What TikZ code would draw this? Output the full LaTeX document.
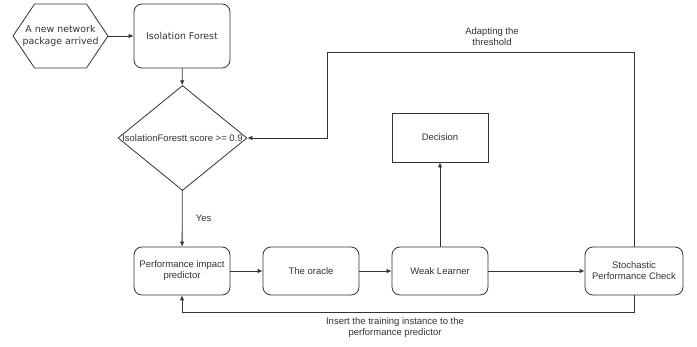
\documentclass[tikz,border=0pt]{standalone}
\usepackage{fontspec}
\setmainfont{Liberation Sans}
\newfontfamily\verdanafont{DejaVu Sans}
\usetikzlibrary{arrows.meta,shapes.geometric,shapes.symbols}
\definecolor{ifdLine}{HTML}{333333}
\definecolor{ifdText}{HTML}{333333}
\tikzset{
  ifd box/.style={draw=ifdLine, rounded corners=8pt, line width=0.8pt, minimum width=96pt, minimum height=48pt, inner sep=2pt, align=center, text=ifdText, font=\fontsize{9.5}{11}\selectfont},
  ifd plain box/.style={ifd box, rounded corners=0pt},
  ifd hexagon/.style={draw=ifdLine, shape=signal, signal to=west and east, signal pointer angle=112, line width=0.8pt, minimum width=95pt, minimum height=64pt, inner sep=0pt},
  ifd diamond/.style={draw=ifdLine, diamond, line width=0.8pt, minimum width=129pt, minimum height=105pt, inner sep=0pt},
  ifd arrow/.style={draw=ifdLine, line width=0.8pt, -{Latex[length=5pt,width=4.5pt]}},
  ifd label/.style={align=center, text=ifdText, font=\fontsize{9.5}{11}\selectfont},
  ifd wide label/.style={align=center, text=ifdText, font=\verdanafont\fontsize{9.4}{11.5}\selectfont},
}

\begin{document}
\begin{tikzpicture}[x=1pt, y=-1pt]
  \useasboundingbox (0,0) rectangle (697,347);

  % upper part: input and outlier test
  \node[ifd hexagon] (pkg) at (60.5,36) {};
  \node[ifd wide label] (pkgtext) at (pkg.center) {A new network\\package arrived};
  \node[ifd box, ifd wide label, minimum height=64pt] (iforest) at (182,36) {Isolation Forest};
  \node[ifd diamond] (check) at (182.5,138) {};
  \node[ifd label] (checktext) at (check.center) {IsolationForestt score >= 0.9};
  \node[ifd plain box, minimum height=49pt] (decision) at (440,137.5) {Decision};

  % lower row of boxes
  \node[ifd box] (predictor) at (182,271) {Performance impact\\predictor};
  \node[ifd box] (oracle) at (311,271) {The oracle};
  \node[ifd box] (weak) at (440,271) {Weak Learner};
  \node[ifd box, minimum width=98pt] (stoch) at (634,271) {Stochastic\\Performance Check};

  \coordinate (loopbend) at (327,52);
  \coordinate (feedbend) at (634,312);

  \draw[ifd arrow] (pkg) -- (iforest);
  \draw[ifd arrow] (iforest) -- (check);
  \draw[ifd arrow] (check) -- (predictor) node[ifd label, midway, right=10pt] (yes) {Yes};
  \draw[ifd arrow] (predictor) -- (oracle);
  \draw[ifd arrow] (oracle) -- (weak);
  \draw[ifd arrow] (weak) -- (stoch);
  \draw[ifd arrow] (weak) -- (decision);
  \draw[ifd arrow] (stoch.north) |- (loopbend) |- (check.east);
  \draw[ifd arrow] (stoch.south) -- (feedbend) -| (predictor.south);

  \node[ifd label] (adapt) at (492,37) {Adapting the\\threshold};
  \node[ifd label] (insert) at (395,328) {Insert the training instance to the\\performance predictor};
\end{tikzpicture}
\end{document}
